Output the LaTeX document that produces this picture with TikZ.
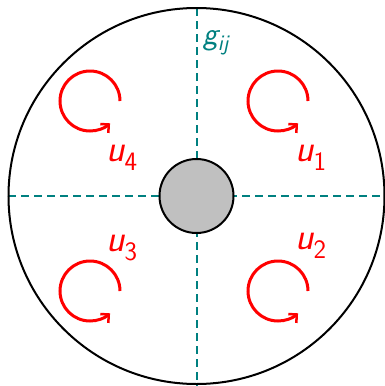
\documentclass[tikz,border=0pt]{standalone}
\usetikzlibrary{arrows.meta}
\definecolor{tealc}{RGB}{0,128,128}
\definecolor{grayc}{RGB}{192,192,192}
\tikzset{
  dash line/.style={draw=tealc, line width=2pt, dash pattern=on 8pt off 5pt},
  rot arrow/.style={draw=red, line width=3pt, -{Straight Barb[length=6pt,width=12pt,line width=2.5pt]}},
  lbl/.style={text=red, font=\fontsize{38}{44}\selectfont\sffamily\itshape, inner sep=0pt},
}
\newcommand{\lab}[2]{#1\textsubscript{#2}}
\begin{document}
\begin{tikzpicture}[x=1pt,y=-1pt]
\useasboundingbox (0,0) rectangle (385,386);
\coordinate (c) at (196.5,196);
\coordinate (l) at (8,196);
\coordinate (r) at (385,196);
\coordinate (t) at (196.5,8);
\coordinate (b) at (196.5,386);
\draw[dash line] (l) -- (r);
\draw[dash line] (t) -- (b);
\node[draw=black, line width=2pt, circle, minimum size=376pt, inner sep=0pt] (outer) at (c) {};
\node[draw=black, line width=2pt, fill=grayc, circle, minimum size=74pt, inner sep=0pt] (hub) at (c) {};
% rotation arrows
\draw[rot arrow] (120,101) arc[start angle=0, end angle=-312, radius=30];
\draw[rot arrow] (308,101) arc[start angle=0, end angle=-312, radius=30];
\draw[rot arrow] (120,291) arc[start angle=0, end angle=-312, radius=30];
\draw[rot arrow] (308,291) arc[start angle=0, end angle=-312, radius=30];
\node[lbl] (u4) at (122,158) {\lab{u}{\upshape 4}};
\node[lbl] (u1) at (311,158) {\lab{u}{\upshape 1}};
\node[lbl] (u3) at (122,248) {\lab{u}{\upshape 3}};
\node[lbl] (u2) at (311,246) {\lab{u}{\upshape 2}};
\node[lbl, text=tealc, font=\fontsize{32}{36}\selectfont\sffamily\itshape] (g) at (216,43) {\lab{g}{ij}};
\end{tikzpicture}
\end{document}
